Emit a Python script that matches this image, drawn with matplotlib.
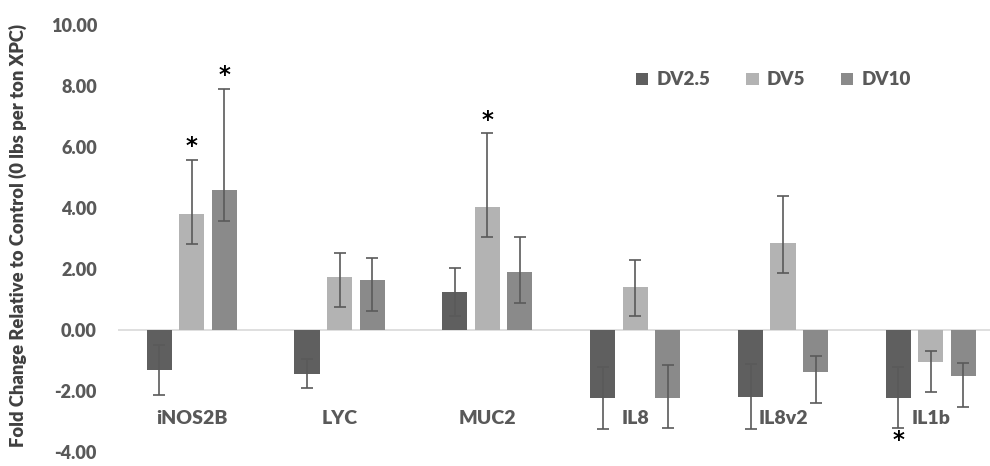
import numpy as np
import matplotlib
matplotlib.use("Agg")
import matplotlib.pyplot as plt

genes = ["iNOS2B", "LYC", "MUC2", "IL8", "IL8v2", "IL1b"]
series = ["DV2.5", "DV5", "DV10"]

# fold change means
dv25 = [-1.34, -1.44, 1.23, -2.25, -2.21, -2.25]
dv5 = [3.80, 1.74, 4.02, 1.39, 2.84, -1.05]
dv10 = [4.59, 1.64, 1.88, -2.25, -1.39, -1.52]

# error bar ends (low, high)
dv25_lo = [-2.13, -1.90, 0.44, -3.27, -3.26, -3.23]
dv25_hi = [-0.52, -0.95, 2.02, -1.23, -1.13, -1.23]
dv5_lo = [2.82, 0.75, 3.03, 0.44, 1.85, -2.05]
dv5_hi = [5.57, 2.52, 6.44, 2.28, 4.38, -0.70]
dv10_lo = [3.57, 0.62, 0.87, -3.23, -2.41, -2.54]
dv10_hi = [7.90, 2.36, 3.03, -1.16, -0.87, -1.10]

# significance stars: (gene index, series index, above/below)
stars = [(0, 1, "above"), (0, 2, "above"), (2, 1, "above"), (5, 0, "below")]

colors = ["#5f5f5f", "#b3b3b3", "#8a8a8a"]
text_grey = "#595959"

plt.rcParams["font.family"] = ["Lato", "DejaVu Sans"]

fig = plt.figure(figsize=(9.9, 4.66), dpi=100)
ax = fig.add_axes([0.119, 0.031, 0.881, 0.916])

x = np.arange(len(genes))
width = 0.17
offset = 0.22
means = [dv25, dv5, dv10]
lows = [dv25_lo, dv5_lo, dv10_lo]
highs = [dv25_hi, dv5_hi, dv10_hi]

for i, name in enumerate(series):
    m = np.array(means[i])
    lo = np.array(lows[i])
    hi = np.array(highs[i])
    xs = x + (i - 1) * offset
    ax.bar(xs, m, width, color=colors[i], label=name, zorder=2)
    ax.errorbar(xs, m, yerr=[m - lo, hi - m], fmt="none", ecolor="#5a5a5a",
                elinewidth=1.2, capsize=4, capthick=1.2, zorder=3)

for g, s, where in stars:
    xs = x[g] + (s - 1) * offset
    if where == "above":
        y = highs[s][g] + 0.05
        va = "bottom"
    else:
        y = lows[s][g] - 0.02
        va = "top"
    ax.text(xs, y, "*", ha="center", va=va, fontsize=16.5, fontweight="bold",
            color="black", family="DejaVu Sans")

ax.axhline(0, color="#d9d9d9", lw=1.2, zorder=1)

for xi, g in zip(x, genes):
    ax.text(xi, -2.9, g, ha="center", va="center", fontsize=14,
            fontweight="heavy", color=text_grey)

ax.set_xlim(-0.5, 5.4)
ax.set_ylim(-4, 10)
ax.set_yticks(np.arange(-4, 11, 2))
ax.set_yticklabels([f"{v:.2f}" for v in np.arange(-4, 11, 2)],
                   fontsize=13, fontweight="heavy", color=text_grey)
ax.set_xticks([])
ax.tick_params(axis="y", length=0, pad=15)
for sp in ax.spines.values():
    sp.set_visible(False)

ax.set_ylabel("Fold Change Relative to Control (0 lbs per ton XPC)",
              fontsize=13.2, fontweight="heavy", color="#404040")
ax.yaxis.set_label_coords(-0.104, 0.505)

leg = ax.legend(loc="upper left", bbox_to_anchor=(0.575, 0.93), ncol=3,
                frameon=False, fontsize=13.5, handlelength=0.65, handleheight=0.65,
                handletextpad=0.45, columnspacing=1.9)
for t in leg.get_texts():
    t.set_color(text_grey)
    t.set_fontweight("heavy")

fig.savefig("out.png", dpi=100)
